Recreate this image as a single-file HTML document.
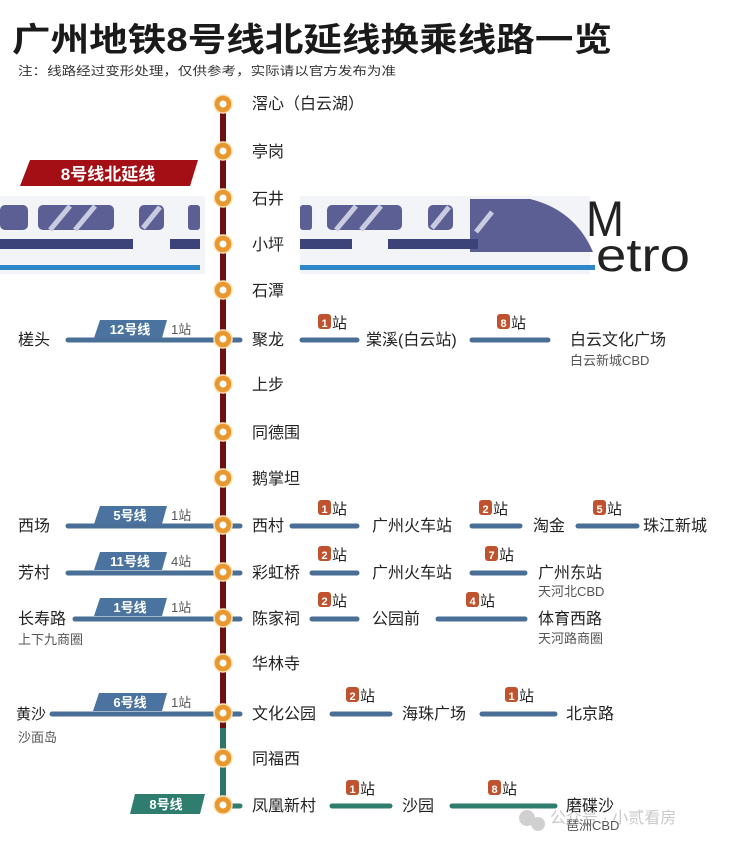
<!DOCTYPE html>
<html><head><meta charset="utf-8"><style>
body{margin:0;background:#fff}
svg text{font-family:"Liberation Sans","Noto Sans CJK SC",sans-serif}
</style></head><body>
<svg width="740" height="846" viewBox="0 0 740 846" xmlns="http://www.w3.org/2000/svg">
<text x="12" y="51" font-size="33" font-weight="bold" fill="#1a1a1a" textLength="600" lengthAdjust="spacingAndGlyphs">广州地铁8号线北延线换乘线路一览</text>
<text x="18" y="75" font-size="12" fill="#333" textLength="378" lengthAdjust="spacingAndGlyphs">注：线路经过变形处理，仅供参考，实际请以官方发布为准</text>

<!-- train -->
<g>
<rect x="0" y="196" width="205" height="78" fill="#f3f4f8"/>
<rect x="0" y="205" width="28" height="25" rx="5" fill="#5b5f94"/>
<rect x="38" y="205" width="76" height="25" rx="5" fill="#5b5f94"/>
<rect x="139" y="205" width="25" height="25" rx="5" fill="#5b5f94"/>
<rect x="188" y="205" width="12" height="25" rx="3" fill="#5b5f94"/>
<rect x="0" y="239" width="133" height="10" fill="#3c4378"/>
<rect x="170" y="239" width="30" height="10" fill="#3c4378"/>
<rect x="0" y="265" width="200" height="5" fill="#2f86c8"/>
<rect x="300" y="196" width="290" height="78" fill="#f3f4f8"/>
<rect x="300" y="205" width="12" height="25" rx="3" fill="#5b5f94"/>
<rect x="327" y="205" width="75" height="25" rx="5" fill="#5b5f94"/>
<rect x="428" y="205" width="25" height="25" rx="5" fill="#5b5f94"/>
<path d="M470 199 L530 199 Q575 210 593 252 L470 252 Z" fill="#5b5f94"/>
<rect x="300" y="239" width="52" height="10" fill="#3c4378"/>
<rect x="388" y="239" width="90" height="10" fill="#3c4378"/>
<rect x="300" y="265" width="295" height="5" fill="#2f86c8"/>
<g stroke="#c9cbe0" stroke-width="5">
<line x1="50" y1="230" x2="70" y2="206"/><line x1="75" y1="230" x2="95" y2="206"/><line x1="143" y1="228" x2="160" y2="207"/>
<line x1="336" y1="230" x2="356" y2="206"/><line x1="361" y1="230" x2="381" y2="206"/><line x1="432" y1="228" x2="449" y2="207"/><line x1="476" y1="232" x2="492" y2="212"/>
</g>
<text x="586" y="236" font-size="50" fill="#222" font-family="DejaVu Sans,sans-serif" textLength="38" lengthAdjust="spacingAndGlyphs">M</text>
<text x="596" y="271" font-size="46" fill="#222" font-family="DejaVu Sans,sans-serif" textLength="94" lengthAdjust="spacingAndGlyphs">etro</text>
</g>
<rect x="205" y="150" width="95" height="140" fill="#fff"/>
<path d="M30 160 L198 160 L190 186 L20 186 Z" fill="#a30f14"/>
<text x="108" y="180" font-size="17" font-weight="bold" fill="#fff" text-anchor="middle">8号线北延线</text>

<!-- main line -->
<line x1="223" y1="95" x2="223" y2="728" stroke="#6e0f12" stroke-width="6"/>
<line x1="223" y1="728" x2="223" y2="806" stroke="#2e7468" stroke-width="6"/>

<!-- left transfer lines -->
<g stroke="#4a6f96" stroke-width="5" stroke-linecap="round">
<line x1="68" y1="340" x2="213" y2="340"/>
<line x1="68" y1="526" x2="213" y2="526"/>
<line x1="68" y1="573" x2="213" y2="573"/>
<line x1="75" y1="619" x2="213" y2="619"/>
<line x1="52" y1="714" x2="213" y2="714"/>
</g>
<g font-size="13" fill="#fff" font-weight="bold" text-anchor="middle">
<path d="M100 320 L167 320 L162 338 L94 338 Z" fill="#4a73a0"/><text x="130" y="334">12号线</text>
<path d="M100 506 L167 506 L162 524 L94 524 Z" fill="#4a73a0"/><text x="130" y="520">5号线</text>
<path d="M100 552 L167 552 L162 570 L94 570 Z" fill="#4a73a0"/><text x="130" y="566">11号线</text>
<path d="M100 598 L167 598 L162 616 L94 616 Z" fill="#4a73a0"/><text x="130" y="612">1号线</text>
<path d="M99 693 L167 693 L162 711 L93 711 Z" fill="#4a73a0"/><text x="130" y="707">6号线</text>
<path d="M135 794 L205 794 L200 814 L130 814 Z" fill="#2e7d6e"/><text x="166" y="809">8号线</text>
</g>
<g font-size="13" fill="#555">
<text x="171" y="334">1站</text><text x="171" y="520">1站</text><text x="171" y="566">4站</text><text x="171" y="612">1站</text><text x="171" y="707">1站</text>
</g>
<g font-size="16" fill="#222">
<text x="18" y="345">槎头</text><text x="18" y="531">西场</text><text x="18" y="578">芳村</text><text x="18" y="624">长寿路</text><text x="16" y="719" font-size="15">黄沙</text>
</g>
<g font-size="13" fill="#555"><text x="18" y="644">上下九商圈</text><text x="18" y="742">沙面岛</text></g>

<!-- right lines -->
<g stroke="#4a6f96" stroke-width="5" stroke-linecap="round">
<line x1="232" y1="340" x2="240" y2="340"/><line x1="302" y1="340" x2="357" y2="340"/><line x1="472" y1="340" x2="548" y2="340"/>
<line x1="232" y1="526" x2="240" y2="526"/><line x1="292" y1="526" x2="357" y2="526"/><line x1="472" y1="526" x2="520" y2="526"/><line x1="578" y1="526" x2="637" y2="526"/>
<line x1="232" y1="573" x2="240" y2="573"/><line x1="312" y1="573" x2="357" y2="573"/><line x1="472" y1="573" x2="525" y2="573"/>
<line x1="232" y1="619" x2="240" y2="619"/><line x1="312" y1="619" x2="357" y2="619"/><line x1="438" y1="619" x2="525" y2="619"/>
<line x1="232" y1="714" x2="240" y2="714"/><line x1="332" y1="714" x2="390" y2="714"/><line x1="482" y1="714" x2="555" y2="714"/>
</g>
<g stroke="#2e7d6e" stroke-width="5" stroke-linecap="round">
<line x1="232" y1="806" x2="240" y2="806"/><line x1="332" y1="806" x2="390" y2="806"/><line x1="452" y1="806" x2="555" y2="806"/>
</g>

<!-- station circles -->
<g fill="#e8982f" stroke="#fbe3b8" stroke-width="1.5">
<circle cx="223" cy="104" r="9"/><circle cx="223" cy="151" r="9"/><circle cx="223" cy="198" r="9"/><circle cx="223" cy="244" r="9"/><circle cx="223" cy="290" r="9"/><circle cx="223" cy="339" r="9"/><circle cx="223" cy="384" r="9"/><circle cx="223" cy="432" r="9"/><circle cx="223" cy="478" r="9"/><circle cx="223" cy="525" r="9"/><circle cx="223" cy="572" r="9"/><circle cx="223" cy="618" r="9"/><circle cx="223" cy="663" r="9"/><circle cx="223" cy="713" r="9"/><circle cx="223" cy="758" r="9"/><circle cx="223" cy="805" r="9"/>
</g>
<g fill="#fff">
<circle cx="223" cy="104" r="3.5"/><circle cx="223" cy="151" r="3.5"/><circle cx="223" cy="198" r="3.5"/><circle cx="223" cy="244" r="3.5"/><circle cx="223" cy="290" r="3.5"/><circle cx="223" cy="339" r="3.5"/><circle cx="223" cy="384" r="3.5"/><circle cx="223" cy="432" r="3.5"/><circle cx="223" cy="478" r="3.5"/><circle cx="223" cy="525" r="3.5"/><circle cx="223" cy="572" r="3.5"/><circle cx="223" cy="618" r="3.5"/><circle cx="223" cy="663" r="3.5"/><circle cx="223" cy="713" r="3.5"/><circle cx="223" cy="758" r="3.5"/><circle cx="223" cy="805" r="3.5"/>
</g>

<g font-size="16" fill="#222">
<text x="252" y="109">滘心（白云湖）</text><text x="252" y="157">亭岗</text><text x="252" y="204">石井</text><text x="252" y="250">小坪</text><text x="252" y="296">石潭</text>
<text x="252" y="345">聚龙</text><text x="366" y="345">棠溪(白云站)</text><text x="570" y="345">白云文化广场</text>
<text x="252" y="390">上步</text><text x="252" y="438">同德围</text><text x="252" y="484">鹅掌坦</text>
<text x="252" y="531">西村</text><text x="372" y="531">广州火车站</text><text x="533" y="531">淘金</text><text x="643" y="531">珠江新城</text>
<text x="252" y="578">彩虹桥</text><text x="372" y="578">广州火车站</text><text x="538" y="578">广州东站</text>
<text x="252" y="624">陈家祠</text><text x="372" y="624">公园前</text><text x="538" y="624">体育西路</text>
<text x="252" y="669">华林寺</text>
<text x="252" y="719">文化公园</text><text x="402" y="719">海珠广场</text><text x="566" y="719">北京路</text>
<text x="252" y="764">同福西</text>
<text x="252" y="811">凤凰新村</text><text x="402" y="811">沙园</text><text x="566" y="811">磨碟沙</text>
</g>
<g font-size="13" fill="#555">
<text x="570" y="365">白云新城CBD</text><text x="538" y="596">天河北CBD</text><text x="538" y="643">天河路商圈</text><text x="566" y="830">琶洲CBD</text>
</g>

<!-- station count badges -->
<g font-size="15" fill="#222">
<g><rect x="318" y="314" width="13" height="15" rx="3" fill="#c0532f"/><text x="324.5" y="327" font-size="11" fill="#fff" text-anchor="middle" font-weight="bold">1</text><text x="332" y="328">站</text></g>
<g><rect x="497" y="314" width="13" height="15" rx="3" fill="#c0532f"/><text x="503.5" y="327" font-size="11" fill="#fff" text-anchor="middle" font-weight="bold">8</text><text x="511" y="328">站</text></g>
<g><rect x="318" y="500" width="13" height="15" rx="3" fill="#c0532f"/><text x="324.5" y="513" font-size="11" fill="#fff" text-anchor="middle" font-weight="bold">1</text><text x="332" y="514">站</text></g>
<g><rect x="479" y="500" width="13" height="15" rx="3" fill="#c0532f"/><text x="485.5" y="513" font-size="11" fill="#fff" text-anchor="middle" font-weight="bold">2</text><text x="493" y="514">站</text></g>
<g><rect x="593" y="500" width="13" height="15" rx="3" fill="#c0532f"/><text x="599.5" y="513" font-size="11" fill="#fff" text-anchor="middle" font-weight="bold">5</text><text x="607" y="514">站</text></g>
<g><rect x="318" y="546" width="13" height="15" rx="3" fill="#c0532f"/><text x="324.5" y="559" font-size="11" fill="#fff" text-anchor="middle" font-weight="bold">2</text><text x="332" y="560">站</text></g>
<g><rect x="485" y="546" width="13" height="15" rx="3" fill="#c0532f"/><text x="491.5" y="559" font-size="11" fill="#fff" text-anchor="middle" font-weight="bold">7</text><text x="499" y="560">站</text></g>
<g><rect x="318" y="592" width="13" height="15" rx="3" fill="#c0532f"/><text x="324.5" y="605" font-size="11" fill="#fff" text-anchor="middle" font-weight="bold">2</text><text x="332" y="606">站</text></g>
<g><rect x="466" y="592" width="13" height="15" rx="3" fill="#c0532f"/><text x="472.5" y="605" font-size="11" fill="#fff" text-anchor="middle" font-weight="bold">4</text><text x="480" y="606">站</text></g>
<g><rect x="346" y="687" width="13" height="15" rx="3" fill="#c0532f"/><text x="352.5" y="700" font-size="11" fill="#fff" text-anchor="middle" font-weight="bold">2</text><text x="360" y="701">站</text></g>
<g><rect x="505" y="687" width="13" height="15" rx="3" fill="#c0532f"/><text x="511.5" y="700" font-size="11" fill="#fff" text-anchor="middle" font-weight="bold">1</text><text x="519" y="701">站</text></g>
<g><rect x="346" y="780" width="13" height="15" rx="3" fill="#c0532f"/><text x="352.5" y="793" font-size="11" fill="#fff" text-anchor="middle" font-weight="bold">1</text><text x="360" y="794">站</text></g>
<g><rect x="488" y="780" width="13" height="15" rx="3" fill="#c0532f"/><text x="494.5" y="793" font-size="11" fill="#fff" text-anchor="middle" font-weight="bold">8</text><text x="502" y="794">站</text></g>
</g>

<!-- watermark -->
<g opacity="0.45">
<circle cx="527" cy="818" r="8" fill="#999"/><circle cx="538" cy="824" r="7" fill="#999"/>
<text x="550" y="823" font-size="16" fill="#888">公众号 · 小贰看房</text>
</g>
</svg>
</body></html>
